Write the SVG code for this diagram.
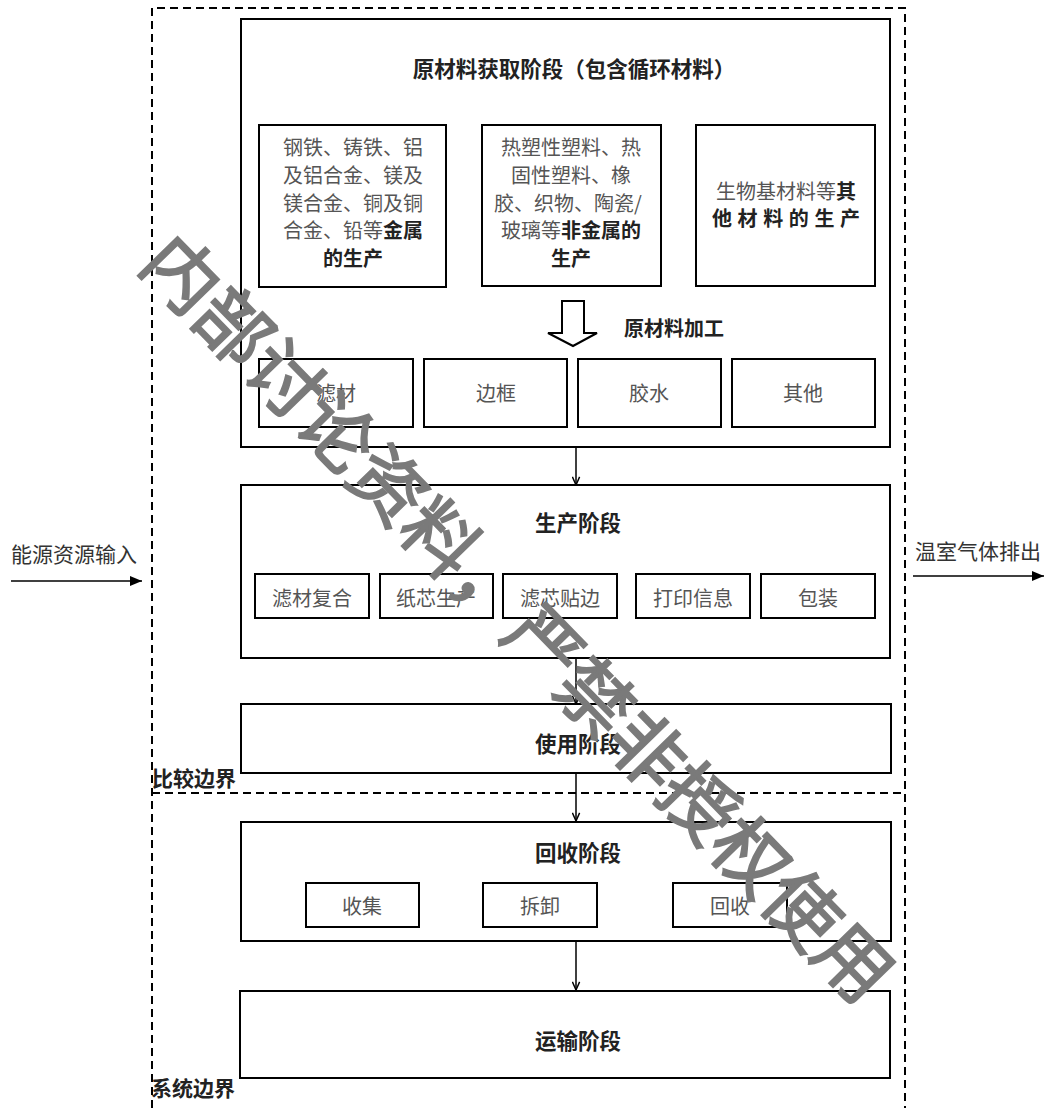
<svg xmlns="http://www.w3.org/2000/svg" width="1047" height="1108" viewBox="0 0 1047 1108">
<style>
text{font-family:"Noto Sans CJK SC","Noto Sans",sans-serif;dominant-baseline:central}
.box{fill:#fff;stroke:#000;stroke-width:2}
.sub{fill:#fff;stroke:#000;stroke-width:2}
.bnd{fill:none;stroke:#000;stroke-width:2;stroke-dasharray:8 5}
.t{font-size:20px;fill:#555;text-anchor:middle}
.b{font-weight:bold;fill:#222}
.title{font-size:21.5px;font-weight:bold;fill:#222;text-anchor:middle}
.lbl{font-size:21px;fill:#333}
.con{fill:none;stroke:#000;stroke-width:1.5}
.wm{font-size:74px;fill:#7a7a7a;stroke:#7a7a7a;stroke-width:2}
</style>
<defs>
<marker id="vhead" viewBox="0 0 10 10" refX="10" refY="5" markerWidth="9" markerHeight="9" markerUnits="userSpaceOnUse" orient="auto">
<path d="M1,1 L10,5 L1,9" fill="none" stroke="#000" stroke-width="1.6"/>
</marker>
<marker id="shead" viewBox="0 0 12 10" refX="12" refY="5" markerWidth="12" markerHeight="10" markerUnits="userSpaceOnUse" orient="auto">
<path d="M0,0 L12,5 L0,10 z" fill="#000"/>
</marker>
</defs>
<rect width="1047" height="1108" fill="#fff"/>

<g id="boundaries">
<path class="bnd" d="M152,1108 V8 H905 V1108"/>
<line class="bnd" x1="152" y1="793" x2="905" y2="793"/>
<text id="cmp-label" x="152" y="777" class="lbl" style="font-weight:bold;fill:#222">比较边界</text>
<text id="sys-label" x="151" y="1087" class="lbl" style="font-weight:bold;fill:#222">系统边界</text>
</g>

<g id="node-raw">
<rect class="box" x="241" y="19" width="649" height="428"/>
<text class="title" x="574" y="67">原材料获取阶段（包含循环材料）</text>
</g>
<g id="node-metal">
<rect class="sub" x="259" y="125" width="187" height="162"/>
<text class="t" x="353" y="146">钢铁、铸铁、铝</text>
<text class="t" x="353" y="174">及铝合金、镁及</text>
<text class="t" x="353" y="202">镁合金、铜及铜</text>
<text class="t" x="353" y="229">合金、铅等<tspan class="b">金属</tspan></text>
<text class="t b" x="353" y="257">的生产</text>
</g>
<g id="node-nonmetal">
<rect class="sub" x="482" y="125" width="179" height="161"/>
<text class="t" x="571" y="146">热塑性塑料、热</text>
<text class="t" x="571" y="174">固性塑料、橡</text>
<text class="t" x="568" y="202">胶、织物、陶瓷/</text>
<text class="t" x="571" y="229">玻璃等<tspan class="b">非金属的</tspan></text>
<text class="t b" x="571" y="257">生产</text>
</g>
<g id="node-other-mat">
<rect class="sub" x="696" y="125" width="179" height="161"/>
<text class="t" x="786" y="190">生物基材料等<tspan class="b">其</tspan></text>
<text class="t b" x="712" y="217" style="text-anchor:start;letter-spacing:5.6px">他材料的生产</text>
</g>
<g id="node-processing">
<polygon points="562,301 584,301 584,333 597,333 573,346 548,333 562,333" fill="#fff" stroke="#000" stroke-width="2"/>
<text x="624" y="327" style="font-size:20px;font-weight:bold;fill:#222">原材料加工</text>
</g>
<g id="node-filter"><rect class="sub" x="259" y="359" width="154" height="68"/><text class="t" x="336" y="392">滤材</text></g>
<g id="node-frame"><rect class="sub" x="424" y="359" width="143" height="68"/><text class="t" x="496" y="392">边框</text></g>
<g id="node-glue"><rect class="sub" x="578" y="359" width="143" height="68"/><text class="t" x="649" y="392">胶水</text></g>
<g id="node-others"><rect class="sub" x="732" y="359" width="143" height="68"/><text class="t" x="803" y="392">其他</text></g>

<g id="node-production">
<rect class="box" x="241" y="485" width="649" height="173"/>
<text class="title" x="578" y="521">生产阶段</text>
</g>
<g id="node-p1"><rect class="sub" x="255" y="574" width="114" height="44"/><text class="t" x="312" y="597">滤材复合</text></g>
<g id="node-p2"><rect class="sub" x="380" y="574" width="113" height="44"/><text class="t" x="436" y="597">纸芯生产</text></g>
<g id="node-p3"><rect class="sub" x="503" y="574" width="114" height="44"/><text class="t" x="560" y="597">滤芯贴边</text></g>
<g id="node-p4"><rect class="sub" x="636" y="574" width="114" height="44"/><text class="t" x="693" y="597">打印信息</text></g>
<g id="node-p5"><rect class="sub" x="761" y="574" width="114" height="44"/><text class="t" x="818" y="597">包装</text></g>

<g id="node-use">
<rect class="box" x="241" y="704" width="650" height="69"/>
<text class="title" x="578" y="742">使用阶段</text>
</g>

<g id="node-recycle">
<rect class="box" x="241" y="822" width="650" height="119"/>
<text class="title" x="578" y="851">回收阶段</text>
</g>
<g id="node-r1"><rect class="sub" x="306" y="883" width="113" height="44"/><text class="t" x="362" y="905">收集</text></g>
<g id="node-r2"><rect class="sub" x="483" y="883" width="114" height="44"/><text class="t" x="540" y="905">拆卸</text></g>
<g id="node-r3"><rect class="sub" x="673" y="883" width="114" height="44"/><text class="t" x="730" y="905">回收</text></g>

<g id="node-transport">
<rect class="box" x="240" y="991" width="650" height="87"/>
<text class="title" x="578" y="1039">运输阶段</text>
</g>

<g id="node-energy"><text x="11" y="553" class="lbl">能源资源输入</text></g>
<g id="node-ghg"><text x="915" y="550" class="lbl">温室气体排出</text></g>

<g id="connectors">
<line class="con" x1="576" y1="447" x2="576" y2="485" marker-end="url(#vhead)"/>
<line class="con" x1="576" y1="658" x2="576" y2="704" marker-end="url(#vhead)"/>
<line class="con" x1="576" y1="773" x2="576" y2="821" marker-end="url(#vhead)"/>
<line class="con" x1="576" y1="941" x2="576" y2="990" marker-end="url(#vhead)"/>
<line class="con" x1="11" y1="581" x2="142" y2="581" marker-end="url(#shead)"/>
<line class="con" x1="913" y1="576" x2="1044" y2="576" marker-end="url(#shead)"/>
</g>

<g id="watermark">
<text class="wm" transform="translate(186,270) rotate(45.7)" x="-37" y="0">内部讨论资料，严禁非授权使用</text>
</g>
</svg>
